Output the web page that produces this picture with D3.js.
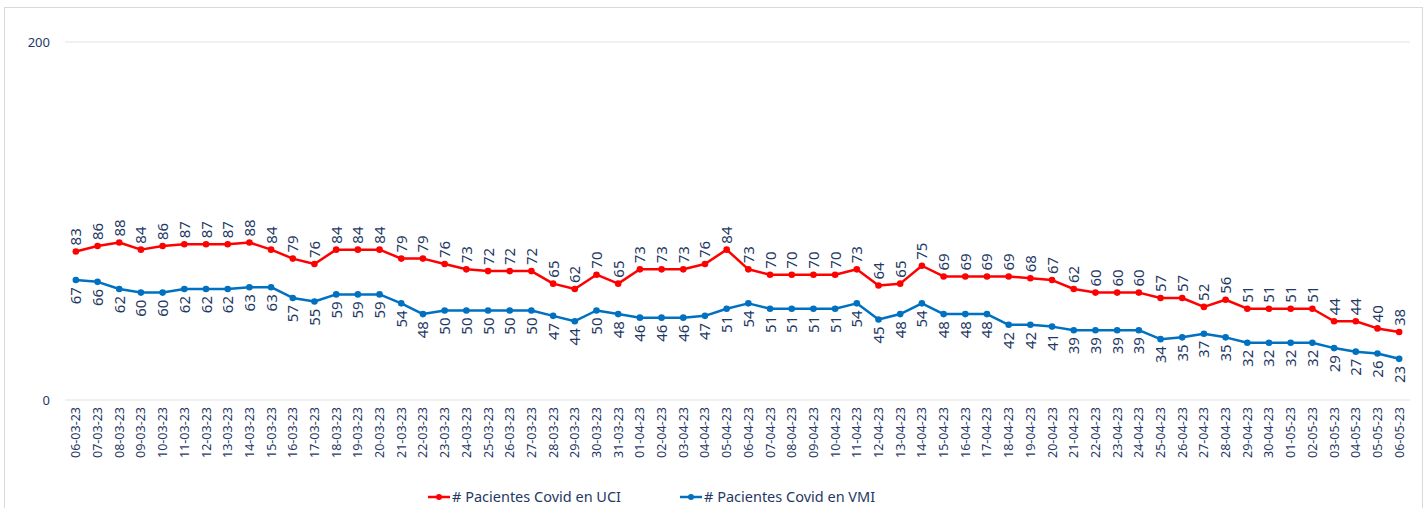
<!DOCTYPE html>
<html><head><meta charset="utf-8">
<script src="https://cdn.jsdelivr.net/npm/d3@7"></script>
<style>body{margin:0;background:#fff;}svg{display:block;font-family:"Noto Sans","Open Sans",sans-serif;}</style>
</head><body><svg id="c" width="1426" height="508"></svg>
<script>
const dates = ["06-03-23","07-03-23","08-03-23","09-03-23","10-03-23","11-03-23","12-03-23","13-03-23","14-03-23","15-03-23","16-03-23","17-03-23","18-03-23","19-03-23","20-03-23","21-03-23","22-03-23","23-03-23","24-03-23","25-03-23","26-03-23","27-03-23","28-03-23","29-03-23","30-03-23","31-03-23",
"01-04-23","02-04-23","03-04-23","04-04-23","05-04-23","06-04-23","07-04-23","08-04-23","09-04-23","10-04-23","11-04-23","12-04-23","13-04-23","14-04-23","15-04-23","16-04-23","17-04-23","18-04-23","19-04-23","20-04-23","21-04-23","22-04-23","23-04-23","24-04-23","25-04-23","26-04-23","27-04-23","28-04-23","29-04-23","30-04-23",
"01-05-23","02-05-23","03-05-23","04-05-23","05-05-23","06-05-23"];
const uci = [83,86,88,84,86,87,87,87,88,84,79,76,84,84,84,79,79,76,73,72,72,72,65,62,70,65,
73,73,73,76,84,73,70,70,70,70,73,64,65,75,69,69,69,69,68,67,62,60,60,60,57,57,52,56,51,51,
51,51,44,44,40,38];
const vmi = [67,66,62,60,60,62,62,62,63,63,57,55,59,59,59,54,48,50,50,50,50,50,47,44,50,48,
46,46,46,47,51,54,51,51,51,51,54,45,48,54,48,48,48,42,42,41,39,39,39,39,34,35,37,35,32,32,
32,32,29,27,26,23];
const yTicks = [0,200];
const seriesNames = ["# Pacientes Covid en UCI","# Pacientes Covid en VMI"];
const colors = ["#ff0000","#0070c0"];
const txt = "#1f3864";

const svg = d3.select("#c");
svg.append("rect").attr("x",4.5).attr("y",7.5).attr("width",1418).attr("height",510).attr("fill","none").attr("stroke","#d9d9d9");

const x = d3.scaleBand().domain(dates).range([65,1410]);
const y = d3.scaleLinear().domain([0,200]).range([400,42]);
const cx = d => x(d)+x.bandwidth()/2;

// gridlines
svg.selectAll("line.g").data(yTicks).join("line").attr("x1",65).attr("x2",1410)
  .attr("y1",d=>y(d)).attr("y2",d=>y(d)).attr("stroke","#e3e3e3").attr("stroke-width",1.2);
svg.selectAll("text.yt").data(yTicks).join("text").attr("x",50).attr("y",d=>y(d)).attr("dy","0.35em")
  .attr("text-anchor","end").attr("fill",txt).attr("font-size",13).text(d=>d);

// x labels
svg.selectAll("text.xl").data(dates).join("text")
  .attr("transform",d=>`translate(${cx(d)+4.5},407) rotate(-90)`)
  .attr("text-anchor","end").attr("fill",txt).attr("font-size",12.5).text(d=>d);

const series = [uci, vmi];
series.forEach((vals,i)=>{
  const line = d3.line().x((v,j)=>cx(dates[j])).y(v=>y(v));
  svg.append("path").datum(vals).attr("d",line).attr("fill","none").attr("stroke",colors[i]).attr("stroke-width",2.5).attr("stroke-linejoin","round");
  svg.append("g").selectAll("circle").data(vals).join("circle").attr("cx",(v,j)=>cx(dates[j])).attr("cy",v=>y(v)).attr("r",3.3).attr("fill",colors[i]);
  svg.append("g").selectAll("text").data(vals).join("text")
    .attr("transform",(v,j)=> i===0 ? `translate(${cx(dates[j])+5.5},${y(v)-6}) rotate(-90)` : `translate(${cx(dates[j])+5.5},${y(v)+7}) rotate(-90)`)
    .attr("text-anchor", i===0 ? "start":"end").attr("fill",txt).attr("font-size",15).text(v=>v);
});

// legend
const lg = [{x:428,tx:452},{x:680,tx:704}];
lg.forEach((l,i)=>{
  svg.append("line").attr("x1",l.x).attr("x2",l.x+22).attr("y1",497).attr("y2",497).attr("stroke",colors[i]).attr("stroke-width",2.5);
  svg.append("circle").attr("cx",l.x+11).attr("cy",497).attr("r",3).attr("fill",colors[i]);
  svg.append("text").attr("x",l.tx).attr("y",497).attr("dy","0.35em").attr("fill",txt).attr("font-size",14.5).text(seriesNames[i]);
});
</script></body></html>
